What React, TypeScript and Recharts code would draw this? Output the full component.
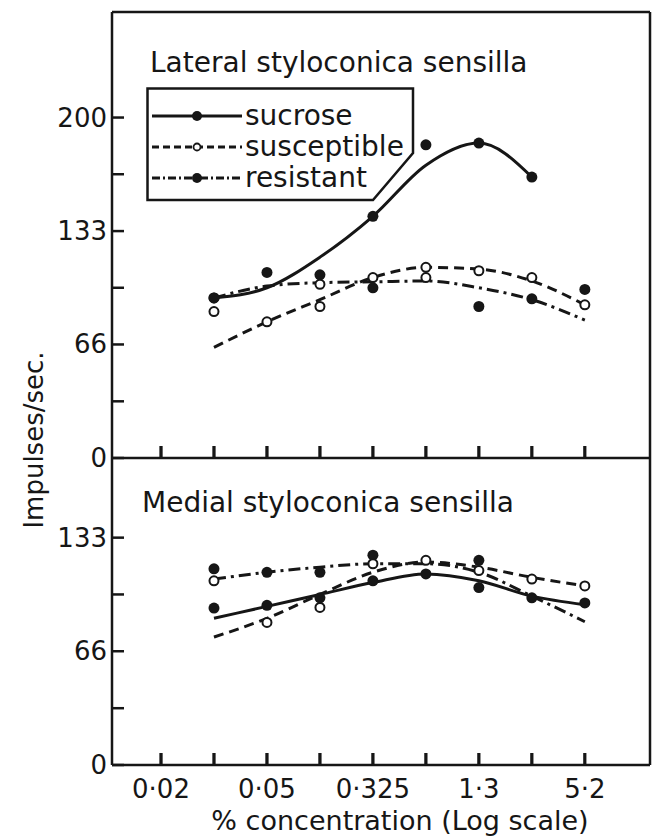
import { ComposedChart, Line, Scatter, XAxis, YAxis, Legend } from "recharts";

// x positions of the eight concentrations on the log axis (tick index)
const concPositions = [1, 2, 3, 4, 5, 6, 7, 8];
const xTicks = [0, 1, 2, 3, 4, 5, 6, 7, 8];
const xTickLabels = ["0·02", "", "0·05", "", "0·325", "", "1·3", "", "5·2"];

const topYTicks = [0, 33.3, 66.7, 100, 133.3, 166.7, 200];
const topYLabels = ["0", "", "66", "", "133", "", "200"];
const bottomYTicks = [0, 33.3, 66.7, 100, 133.3];
const bottomYLabels = ["0", "", "66", "", "133"];

const seriesNames = ["sucrose", "susceptible", "resistant"];

// lateral styloconica - observed points
const lateralSucrose = [94, 109, null, 142, 184, 185, 165, null];
const lateralSusceptible = [86, 80, 89, 106, 112, 110, 106, 90];
const lateralSusceptibleRep = [null, null, 102, null, 106, null, null, null];
const lateralResistant = [94, null, 107.6, 100, null, 89, 93.5, 99];
// lateral - fitted curves
const lateralSucroseFit = [94, 100, 118, 142, 172, 185, 165];
const lateralSusceptibleFit = [65, 80, 93, 106, 112, 111, 104, 90];
const lateralResistantFit = [94, 101, 103, 103.5, 104, 100, 93, 81];

// medial styloconica - observed points
const medialSucrose = [92, 93.6, 98, 108, 112, 104, 98, 95];
const medialSusceptible = [108, 83.6, 92.4, 118, 120, 114, 109, 105];
const medialResistant = [115, 113, 113, 123, null, 120, null, null];
// medial - fitted curves
const medialSucroseFit = [86, 93, 100, 107, 112, 108, 99, 94];
const medialSusceptibleFit = [75, 86, 100, 113, 119, 116, 110, 105];
const medialResistantFit = [109, 113, 116, 118, 118, 113, 99, 84];

const INK = "#161616";
const FONT = "'DejaVu Sans', sans-serif";
const DASH = "10 6";
const DASH_DOT = "12 5 3 5";

const toPoints = (vals: (number | null)[]) =>
  vals
    .map((y, i) => ({ x: concPositions[i], y }))
    .filter((p) => p.y !== null);

// foot of every x tick, sitting on the axis
const tickBase = xTicks.map((t) => ({ x: t, y: 0 }));

function FilledDot(props: any) {
  const { cx, cy } = props;
  if (cx == null || cy == null) return null;
  return <circle cx={cx} cy={cy} r={5.5} fill={INK} />;
}

function OpenDot(props: any) {
  const { cx, cy } = props;
  if (cx == null || cy == null) return null;
  return <circle cx={cx} cy={cy} r={4.5} fill="#fff" stroke={INK} strokeWidth={2} />;
}

function TickMark(props: any) {
  const { cx, cy } = props;
  if (cx == null || cy == null) return null;
  return <rect x={cx - 1.4} y={cy - 12} width={2.8} height={12} fill={INK} />;
}

// x tick: upward mark plus (optionally) the label below the axis
const makeXTick = (withLabel: boolean) => (props: any) => {
  const { x, y, payload } = props;
  const label = withLabel ? xTickLabels[payload.value] : "";
  return (
    <g>
      <path d={`M${x},${y + 1}V${y - 12}`} stroke={INK} strokeWidth={2.8} fill="none" />
      {label ? (
        <text x={x} y={y + 33} textAnchor="middle" fontSize={26} fontFamily={FONT} fill={INK}>
          {label}
        </text>
      ) : null}
    </g>
  );
};

const makeYTick = (ticks: number[], labels: string[]) => (props: any) => {
  const { x, y, payload } = props;
  const label = labels[ticks.indexOf(payload.value)];
  return (
    <g>
      <line x1={x} x2={x + 12} y1={y} y2={y} stroke={INK} strokeWidth={2.5} />
      {label ? (
        <text x={x - 5} y={y} dy={9} textAnchor="end" fontSize={26} fontFamily={FONT} fill={INK}>
          {label}
        </text>
      ) : null}
    </g>
  );
};

const legendLook: Record<string, { dash?: string; open: boolean }> = {
  sucrose: { open: false },
  susceptible: { dash: "7 4", open: true },
  resistant: { dash: "8 3 2 3", open: false },
};

function LegendBox({ payload }: any) {
  const present = new Set((payload || []).map((p: any) => p.value));
  const items = seriesNames.filter((n) => present.has(n));
  return (
    <svg width={270} height={116} style={{ display: "block" }}>
      <polygon
        points="1.5,1.5 267,1.5 267,66 227,113 1.5,113"
        fill="#fff"
        stroke={INK}
        strokeWidth={2.5}
      />
      {items.map((name, i) => {
        const look = legendLook[name];
        const base = 38 + i * 31;
        const cy = base - 9;
        return (
          <g key={name}>
            <line x1={6} x2={96} y1={cy} y2={cy} stroke={INK} strokeWidth={3} strokeDasharray={look.dash} />
            {look.open ? (
              <circle cx={51} cy={cy} r={3.5} fill="#fff" stroke={INK} strokeWidth={1.8} />
            ) : (
              <circle cx={51} cy={cy} r={5} fill={INK} />
            )}
            <text x={99} y={base} fontSize={28} fontFamily={FONT} fill={INK}>
              {name}
            </text>
          </g>
        );
      })}
    </svg>
  );
}

const axisLine = { stroke: INK, strokeWidth: 2.5 };

export default function App() {
  const xDomain: [number, number] = [-0.925, 9.23];
  return (
    <div style={{ position: "relative", width: 659, height: 839, background: "#fff" }}>
      <style>{"body{margin:0}"}</style>

      {/* Lateral styloconica (top panel) */}
      <div style={{ position: "absolute", left: 0, top: 0 }}>
        <ComposedChart width={659} height={839} margin={{ top: 11, right: 8, bottom: 380, left: 0 }}>
          <XAxis
            dataKey="x"
            type="number"
            domain={xDomain}
            ticks={xTicks}
            allowDataOverflow
            height={1}
            tickSize={0}
            tickMargin={0}
            tickLine={false}
            axisLine={axisLine}
            tick={makeXTick(false)}
            interval={0}
          />
          <XAxis xAxisId="frameTop" orientation="top" type="number" domain={[0, 1]} height={1} tick={false} tickLine={false} axisLine={axisLine} />
          <YAxis
            dataKey="y"
            type="number"
            domain={[0, 262]}
            ticks={topYTicks}
            allowDataOverflow
            width={112}
            tickSize={0}
            tickMargin={0}
            tickLine={false}
            axisLine={axisLine}
            tick={makeYTick(topYTicks, topYLabels)}
            interval={0}
          />
          <YAxis yAxisId="frameRight" orientation="right" type="number" domain={[0, 1]} width={1} tick={false} tickLine={false} axisLine={axisLine} />

          <Scatter data={tickBase} dataKey="y" shape={TickMark} legendType="none" isAnimationActive={false} />

          <Line name="sucrose" data={toPoints(lateralSucroseFit)} dataKey="y" type="monotone" stroke={INK} strokeWidth={3} dot={false} isAnimationActive={false} />
          <Line name="susceptible" data={toPoints(lateralSusceptibleFit)} dataKey="y" type="monotone" stroke={INK} strokeWidth={3} strokeDasharray={DASH} dot={false} isAnimationActive={false} />
          <Line name="resistant" data={toPoints(lateralResistantFit)} dataKey="y" type="monotone" stroke={INK} strokeWidth={3} strokeDasharray={DASH_DOT} dot={false} isAnimationActive={false} />

          <Scatter data={toPoints(lateralSucrose)} dataKey="y" shape={FilledDot} legendType="none" isAnimationActive={false} />
          <Scatter data={toPoints(lateralResistant)} dataKey="y" shape={FilledDot} legendType="none" isAnimationActive={false} />
          <Scatter data={toPoints(lateralSusceptible)} dataKey="y" shape={OpenDot} legendType="none" isAnimationActive={false} />
          <Scatter data={toPoints(lateralSusceptibleRep)} dataKey="y" shape={OpenDot} legendType="none" isAnimationActive={false} />

          <Legend
            layout="horizontal"
            verticalAlign="middle"
            align="center"
            content={LegendBox}
            wrapperStyle={{ left: 146, top: 87, width: 270, height: 116 }}
          />

          <text x={150} y={72} fontSize={28} fontFamily={FONT} fill={INK}>
            Lateral styloconica sensilla
          </text>
          <text
            x={34}
            y={440}
            transform="rotate(-90 34 440)"
            textAnchor="middle"
            dominantBaseline="central"
            fontSize={26}
            fontFamily={FONT}
            fill={INK}
          >
            Impulses/sec.
          </text>
        </ComposedChart>
      </div>

      {/* Medial styloconica (bottom panel) */}
      <div style={{ position: "absolute", left: 0, top: 0 }}>
        <ComposedChart width={659} height={839} margin={{ top: 458, right: 8, bottom: 73, left: 0 }}>
          <XAxis
            dataKey="x"
            type="number"
            domain={xDomain}
            ticks={xTicks}
            allowDataOverflow
            height={1}
            tickSize={0}
            tickMargin={0}
            tickLine={false}
            axisLine={axisLine}
            tick={makeXTick(true)}
            interval={0}
          />
          <YAxis
            dataKey="y"
            type="number"
            domain={[0, 180]}
            ticks={bottomYTicks}
            allowDataOverflow
            width={112}
            tickSize={0}
            tickMargin={0}
            tickLine={false}
            axisLine={axisLine}
            tick={makeYTick(bottomYTicks, bottomYLabels)}
            interval={0}
          />
          <YAxis yAxisId="frameRight" orientation="right" type="number" domain={[0, 1]} width={1} tick={false} tickLine={false} axisLine={axisLine} />

          <Scatter data={tickBase} dataKey="y" shape={TickMark} legendType="none" isAnimationActive={false} />

          <Line name="sucrose" data={toPoints(medialSucroseFit)} dataKey="y" type="monotone" stroke={INK} strokeWidth={3} dot={false} isAnimationActive={false} />
          <Line name="susceptible" data={toPoints(medialSusceptibleFit)} dataKey="y" type="monotone" stroke={INK} strokeWidth={3} strokeDasharray={DASH} dot={false} isAnimationActive={false} />
          <Line name="resistant" data={toPoints(medialResistantFit)} dataKey="y" type="monotone" stroke={INK} strokeWidth={3} strokeDasharray={DASH_DOT} dot={false} isAnimationActive={false} />

          <Scatter data={toPoints(medialSucrose)} dataKey="y" shape={FilledDot} legendType="none" isAnimationActive={false} />
          <Scatter data={toPoints(medialResistant)} dataKey="y" shape={FilledDot} legendType="none" isAnimationActive={false} />
          <Scatter data={toPoints(medialSusceptible)} dataKey="y" shape={OpenDot} legendType="none" isAnimationActive={false} />

          <text x={142} y={512} fontSize={28} fontFamily={FONT} fill={INK}>
            Medial styloconica sensilla
          </text>
          <text x={400} y={830} textAnchor="middle" fontSize={27} fontFamily={FONT} fill={INK}>
            % concentration (Log scale)
          </text>
        </ComposedChart>
      </div>
    </div>
  );
}
